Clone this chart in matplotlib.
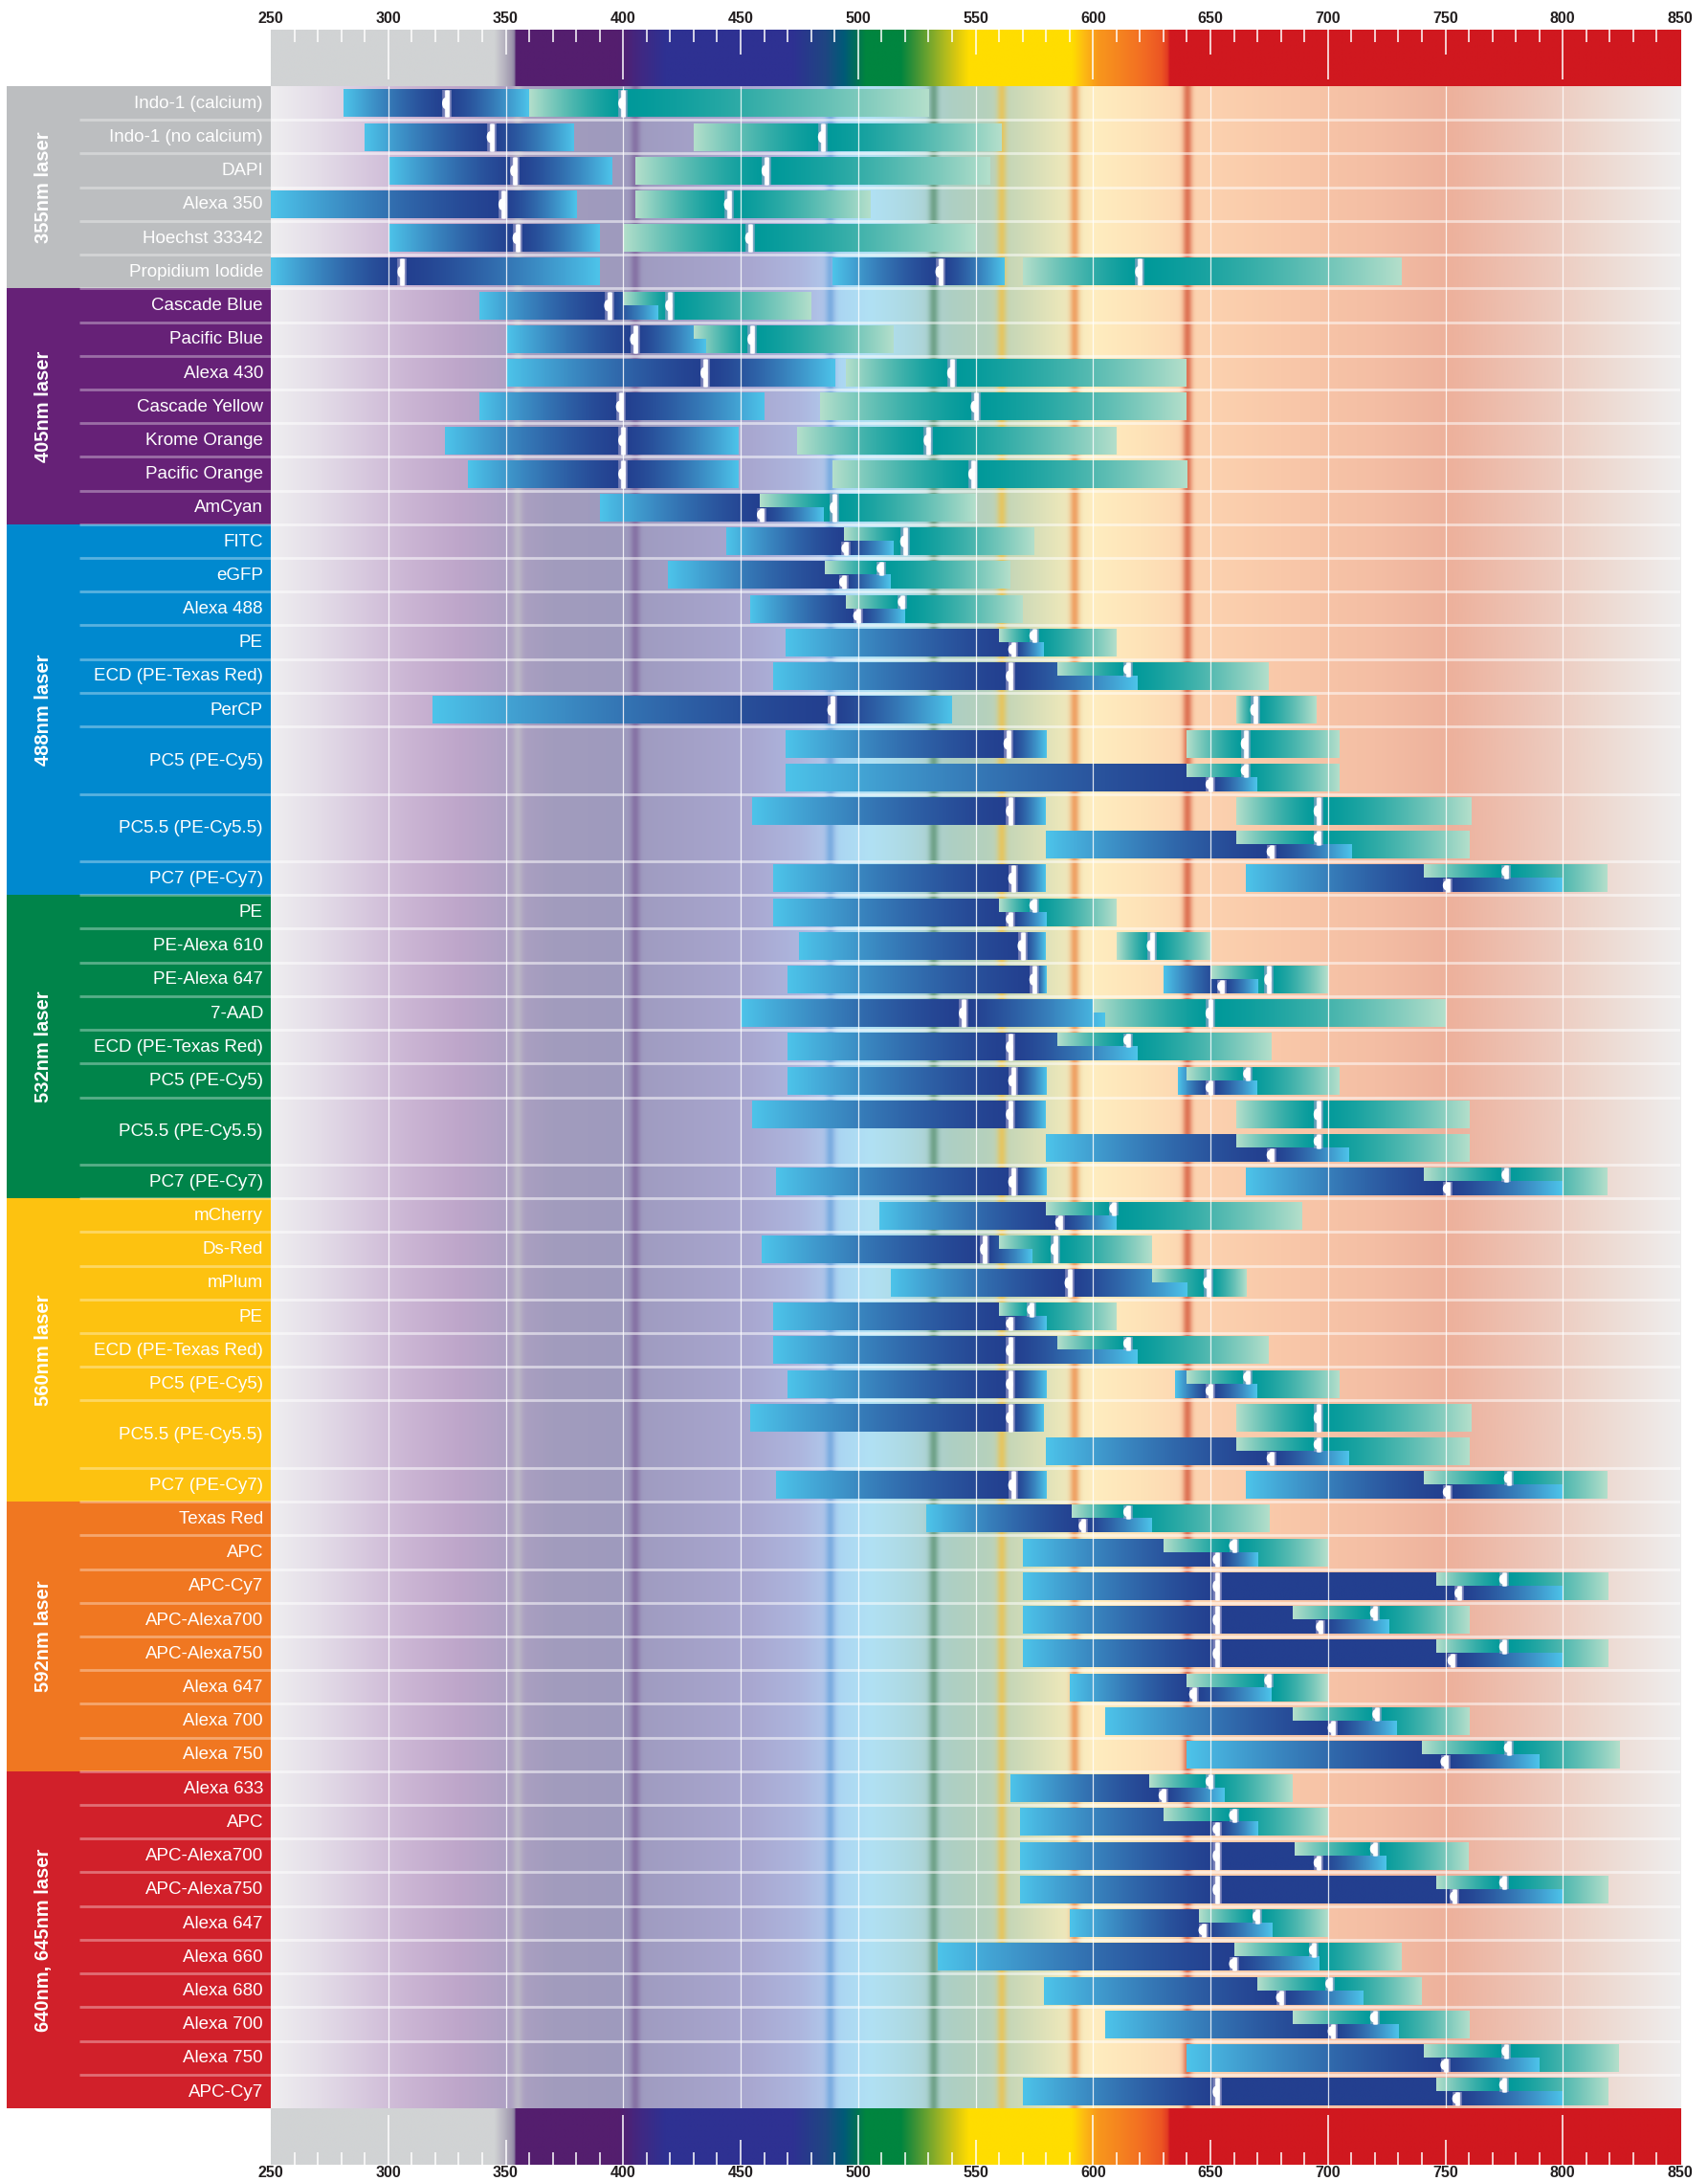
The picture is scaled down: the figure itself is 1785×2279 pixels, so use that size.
import numpy as np
import matplotlib
matplotlib.use("Agg")
import matplotlib.pyplot as plt
from matplotlib.colors import to_rgb
from matplotlib.patches import Ellipse

plt.rcParams['font.family'] = ['Liberation Sans', 'DejaVu Sans']

# ---- data -------------------------------------------------------------
group_names = ["355nm laser", "405nm laser", "488nm laser", "532nm laser",
               "560nm laser", "592nm laser", "640nm, 645nm laser"]
group_colors = ["#BCBEC0", "#662177", "#0089CF", "#00844A",
                "#FDC210", "#F07721", "#D1202A"]
laser_lines = [355, 405, 488, 532, 561, 592, 640]
laser_colors = ["#BDBAC7", "#846FA2", "#78AADF", "#6A9E82",
                "#E8C55A", "#EF9B5C", "#DB6A4C"]

dye_names = [
    "Indo-1 (calcium)", "Indo-1 (no calcium)", "DAPI", "Alexa 350", "Hoechst 33342", "Propidium Iodide",
    "Cascade Blue", "Pacific Blue", "Alexa 430", "Cascade Yellow", "Krome Orange", "Pacific Orange", "AmCyan",
    "FITC", "eGFP", "Alexa 488", "PE", "ECD (PE-Texas Red)", "PerCP", "PC5 (PE-Cy5)", "PC5.5 (PE-Cy5.5)", "PC7 (PE-Cy7)",
    "PE", "PE-Alexa 610", "PE-Alexa 647", "7-AAD", "ECD (PE-Texas Red)", "PC5 (PE-Cy5)", "PC5.5 (PE-Cy5.5)", "PC7 (PE-Cy7)",
    "mCherry", "Ds-Red", "mPlum", "PE", "ECD (PE-Texas Red)", "PC5 (PE-Cy5)", "PC5.5 (PE-Cy5.5)", "PC7 (PE-Cy7)",
    "Texas Red", "APC", "APC-Cy7", "APC-Alexa700", "APC-Alexa750", "Alexa 647", "Alexa 700", "Alexa 750",
    "Alexa 633", "APC", "APC-Alexa700", "APC-Alexa750", "Alexa 647", "Alexa 660", "Alexa 680", "Alexa 700",
    "Alexa 750", "APC-Cy7",
]
dye_group = [0]*6 + [1]*7 + [2]*9 + [3]*8 + [4]*8 + [5]*8 + [6]*10
dye_rows = ([1]*6 + [1]*7 + [1]*6 + [2, 2, 1] + [1]*6 + [2, 1]
            + [1]*6 + [2, 1] + [1]*8 + [1]*10)

# one entry per sub-row: bands as (start, [peaks], end) in nm
ex_bands = [
    [(281, [325], 360)], [(290, [344], 379)], [(300, [354], 395)],
    [(250, [349], 380)], [(300, [355], 390)], [(250, [306], 390), (489, [535], 562)],
    [(339, [394], 415)], [(350, [405], 435)], [(350, [435], 490)], [(339, [399], 460)],
    [(324, [400], 449)], [(334, [400], 449)], [(390, [459], 485)],
    [(444, [495], 515)], [(419, [494], 514)], [(454, [500], 520)], [(469, [566], 579)],
    [(464, [565], 619)], [(319, [489], 540)],
    [(469, [564], 580)], [(469, [650], 670)],
    [(455, [565], 580)], [(580, [676], 710)],
    [(464, [566], 580), (665, [751], 800)],
    [(464, [565], 580)], [(475, [570], 580)], [(470, [575], 580), (630, [655], 670)],
    [(450, [545], 605)], [(470, [565], 619)], [(470, [566], 580), (636, [650], 670)],
    [(455, [565], 580)], [(580, [676], 709)],
    [(465, [566], 580), (665, [751], 800)],
    [(509, [586], 610)], [(459, [554], 574)], [(514, [590], 640)], [(464, [565], 580)],
    [(464, [565], 619)], [(470, [565], 580), (635, [650], 670)],
    [(454, [565], 579)], [(580, [676], 709)],
    [(465, [566], 580), (665, [751], 800)],
    [(529, [596], 625)], [(570, [653], 670)], [(570, [653, 756], 800)],
    [(570, [653, 697], 726)], [(570, [653, 753], 800)], [(590, [643], 676)],
    [(605, [702], 729)], [(640, [750], 790)],
    [(565, [630], 656)], [(569, [653], 670)], [(569, [653, 696], 725)],
    [(569, [653, 754], 800)], [(590, [647], 676)], [(534, [660], 696)],
    [(579, [680], 715)], [(605, [702], 730)], [(640, [750], 790)],
    [(570, [653, 755], 800)],
]
em_bands = [
    [(360, [400], 530)], [(430, [485], 561)], [(405, [461], 556)],
    [(405, [445], 505)], [(400, [454], 550)], [(570, [620], 731)],
    [(400, [420], 480)], [(430, [455], 515)], [(495, [540], 640)], [(484, [550], 640)],
    [(474, [530], 610)], [(489, [549], 640)], [(458, [490], 550)],
    [(494, [520], 575)], [(486, [510], 565)], [(495, [519], 570)], [(560, [575], 610)],
    [(585, [615], 675)], [(661, [669], 695)],
    [(640, [665], 705)], [(640, [665], 705)],
    [(661, [696], 761)], [(661, [696], 760)],
    [(741, [776], 819)],
    [(560, [575], 610)], [(610, [625], 650)], [(650, [675], 700)],
    [(600, [650], 750)], [(585, [615], 676)], [(640, [666], 705)],
    [(661, [696], 760)], [(661, [696], 760)],
    [(741, [776], 819)],
    [(580, [609], 689)], [(560, [584], 625)], [(625, [649], 665)], [(560, [574], 610)],
    [(585, [615], 675)], [(640, [666], 705)],
    [(661, [696], 761)], [(661, [696], 760)],
    [(741, [777], 819)],
    [(591, [615], 675)], [(630, [660], 700)], [(746, [775], 819)],
    [(685, [720], 760)], [(746, [775], 819)], [(640, [675], 700)],
    [(685, [721], 760)], [(740, [777], 824)],
    [(624, [650], 685)], [(630, [660], 700)], [(686, [720], 760)],
    [(746, [775], 819)], [(645, [670], 700)], [(660, [694], 731)],
    [(670, [701], 740)], [(685, [720], 760)], [(741, [776], 824)],
    [(746, [775], 819)],
]

# colour stops of the background and of the spectrum strip
bg_nm = [250, 270, 290, 310, 330, 350, 370, 400, 430, 455, 475, 486, 492, 505, 520,
         531, 540, 555, 568, 585, 600, 620, 645, 680, 720, 752, 785, 815, 850]
bg_hex = ['#EFEEF0', '#E4DDE8', '#D7C8DE', '#CAB4D3', '#BEA6CA', '#AFA1C4', '#A29CBD',
          '#9E9ABE', '#A4A1C8', '#A9A8D1', '#ADB6DE', '#B0C6EA', '#ABD6F2', '#B1E1F4',
          '#AEDAE4', '#ADD2D2', '#AECFC3', '#B6D1BC', '#CCD9B7', '#E9E6BA', '#FFEDC0',
          '#FEE3B8', '#FCD3B0', '#F9C8A9', '#F4BEA4', '#EDB19C', '#EDC4B6', '#EDD8CF', '#EFEEEE']
spec_nm = [250, 345, 349, 352.5, 353.6, 354.2, 398, 408, 418, 472, 486, 494, 498, 503,
           518, 524, 530, 536, 542, 547, 591, 596, 602, 612, 622, 629, 631.5, 632.5, 850]
spec_hex = ['#D1D3D4', '#D1D3D4', '#B8B5C1', '#9F97AE', '#8A7FA0', '#541E6E', '#541E6E',
            '#3F2984', '#2E3192', '#2E3192', '#1F4682', '#005B77', '#006B5E', '#00853F',
            '#00853F', '#3A9236', '#72A52E', '#A9B821', '#DCC90F', '#FFDD00', '#FFDD00',
            '#FDBB13', '#F8971C', '#F58220', '#F26A23', '#EC5523', '#E23B22', '#D0181F', '#D0181F']

EX = (np.array(to_rgb('#4DC4EA')), np.array(to_rgb('#233F8F')))
EM = (np.array(to_rgb('#B4DFCB')), np.array(to_rgb('#00999A')))


def strip(nm, hexes, x):
    rgb = np.array([to_rgb(h) for h in hexes])
    return np.stack([np.interp(x, nm, rgb[:, k]) for k in range(3)], axis=1)


def band_colors(x, start, peaks, end, c_end, c_peak):
    lo, hi = min(peaks), max(peaks)
    t = np.zeros_like(x)
    m = x < lo
    t[m] = (lo - x[m]) / max(lo - start, 1e-6)
    m = x > hi
    t[m] = (x[m] - hi) / max(end - hi, 1e-6)
    t = np.clip(t, 0, 1) ** 1.4
    return (1 - t)[:, None] * c_peak + t[:, None] * c_end


# ---- layout -------------------------------------------------------------
W, H = 1785, 2279
fig = plt.figure(figsize=(W / 100, H / 100), dpi=100)
px_l, px_r, px_top, px_bot = 283, 1756, 90, 2203
nrows = sum(dye_rows)

ax = fig.add_axes([px_l / W, 1 - px_bot / H, (px_r - px_l) / W, (px_bot - px_top) / H])
axL = fig.add_axes([7 / W, 1 - px_bot / H, (px_l - 7) / W, (px_bot - px_top) / H])
axT = fig.add_axes([px_l / W, 1 - px_top / H, (px_r - px_l) / W, 59 / H])
axB = fig.add_axes([px_l / W, 1 - (px_bot + 59) / H, (px_r - px_l) / W, 59 / H])

# background with laser lines
xs = np.linspace(250, 850, 2400)
bg = strip(bg_nm, bg_hex, xs)
for lam, col in zip(laser_lines, laser_colors):
    w = 0.9 * np.exp(-0.5 * ((xs - lam) / 1.4) ** 2)
    bg = bg * (1 - w[:, None]) + np.array(to_rgb(col)) * w[:, None]
ax.imshow(bg[None, :, :], extent=[250, 850, nrows, 0], aspect='auto',
          interpolation='bilinear', zorder=0)

bounds = np.cumsum([0] + dye_rows)
ax.hlines(bounds[1:-1], 250, 850, colors='white', lw=2, alpha=0.55, zorder=2)


def draw_band(a, b, y0, y1, band, cols):
    if b <= a:
        return
    x = np.linspace(a, b, max(int((b - a) * 4), 2))
    img = band_colors(x, band[0], band[1], band[2], *cols)
    ax.imshow(img[None, :, :], extent=[a, b, y1, y0], aspect='auto',
              interpolation='bilinear', zorder=3)


def peak(p, y0, y1):
    ax.vlines(p, y0, y1, colors='#A9A6CF', lw=7, alpha=0.6, zorder=4)
    ax.vlines(p, y0, y1, colors='#EDEDF6', lw=3.8, zorder=4)
    ax.vlines(p, y0, y1, colors='white', lw=2, zorder=4)
    ax.add_patch(Ellipse((p - 0.6, (y0 + y1) / 2), 2.4, min(0.3, 0.6 * (y1 - y0)),
                         color='white', zorder=5))


for i in range(nrows):
    y0, y1, ym = i + 0.1, i + 0.92, i + 0.51
    exs, ems = ex_bands[i], em_bands[i]
    for b in exs:
        draw_band(b[0], b[2], y0, y1, b, EX)
    for b in ems:
        draw_band(b[0], b[2], y0, y1, b, EM)
    overlaps = []
    for e in exs:
        for m in ems:
            a, c = max(e[0], m[0]), min(e[2], m[2])
            if c > a:
                draw_band(a, c, ym, y1, e, EX)
                overlaps.append((a, c))
    for b in exs:
        for p in b[1]:
            if any(a <= p <= c for a, c in overlaps):
                peak(p, ym, y1)
            else:
                peak(p, y0, y1)
    for b in ems:
        for p in b[1]:
            if any(a <= p <= c for a, c in overlaps):
                peak(p, y0, ym)
            else:
                peak(p, y0, y1)

ax.vlines(np.arange(300, 850, 50), 0, nrows, colors='white', lw=0.9, alpha=0.85, zorder=6)
ax.set_xlim(250, 850)
ax.set_ylim(nrows, 0)
ax.axis('off')

# left label block
gstart = 0
for g, (name, col) in enumerate(zip(group_names, group_colors)):
    n = sum(r for r, dg in zip(dye_rows, dye_group) if dg == g)
    axL.axhspan(gstart, gstart + n, color=col, lw=0, zorder=0)
    axL.text(0.138, gstart + n / 2, name, rotation=90, ha='center', va='center',
             color='white', fontsize=14.5, fontweight='bold')
    gstart += n
axL.hlines(bounds[1:-1], 0.275, 1, colors='white', lw=2, alpha=0.35, zorder=1)
for name, y0, r in zip(dye_names, bounds[:-1], dye_rows):
    axL.text(0.971, y0 + r / 2 + 0.02, name, ha='right', va='center',
             color='white', fontsize=13.5)
axL.set_xlim(0, 1)
axL.set_ylim(nrows, 0)
axL.axis('off')

# spectrum strips with ticks
sx = np.linspace(250, 850, 3000)
spec = strip(spec_nm, spec_hex, sx)
minor = [t for t in range(260, 850, 10) if t % 50]
mid = [t for t in range(350, 850, 100)]
major = [t for t in range(300, 850, 100)]
for a, top in ((axT, True), (axB, False)):
    a.imshow(spec[None, :, :], extent=[250, 850, 0, 1], aspect='auto',
             interpolation='bilinear', zorder=0)
    for ticks, ln in ((minor, 0.22), (mid, 0.44), (major, 0.88)):
        if top:
            a.vlines(ticks, 1 - ln, 1, colors='white', lw=1.1, zorder=2)
        else:
            a.vlines(ticks, 0, ln, colors='white', lw=1.1, zorder=2)
    for t in range(250, 851, 50):
        a.text(t, 1.19 if top else -0.15, str(t), ha='center', va='center',
               fontsize=11.5, fontweight='bold', color='#231F20', clip_on=False)
    a.set_xlim(250, 850)
    a.set_ylim(0, 1)
    a.axis('off')

fig.savefig('out.png', dpi=100)
